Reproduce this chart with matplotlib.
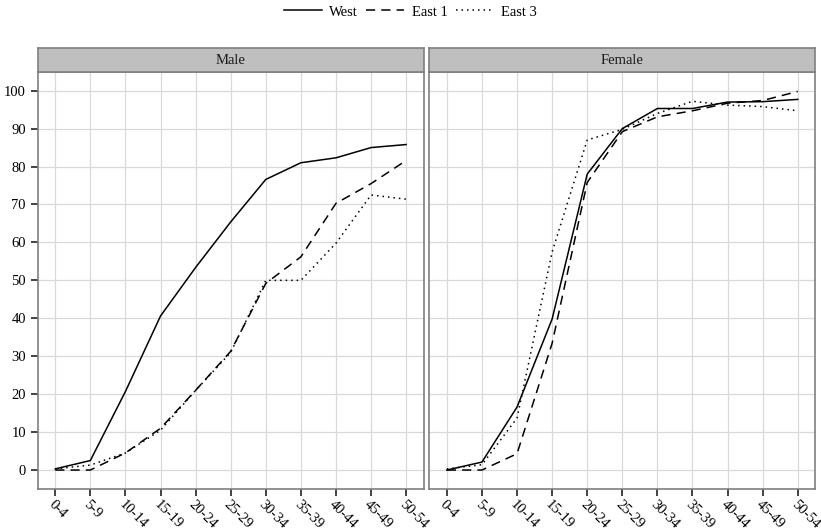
import numpy as np
import matplotlib
matplotlib.use('Agg')
import matplotlib.pyplot as plt
from matplotlib.lines import Line2D

plt.rcParams['font.family'] = ['Liberation Serif', 'DejaVu Serif']

# age groups on the x axis
ages = ['0-4', '5-9', '10-14', '15-19', '20-24', '25-29', '30-34',
        '35-39', '40-44', '45-49', '50-54']

# Male panel
male_west = [0.3, 2.5, 20.7, 40.6, 53.4, 65.4, 76.6, 81.0, 82.3, 85.0, 85.8]
male_east1 = [0.0, 0.0, 4.5, 11.0, 21.0, 31.3, 49.2, 56.2, 70.3, 75.5, 81.6]
male_east3 = [0.3, 1.3, 4.5, 10.5, 21.0, 31.0, 50.0, 50.0, 59.8, 72.5, 71.4]

# Female panel
female_west = [0.0, 2.1, 16.6, 39.8, 78.0, 90.0, 95.3, 95.3, 97.0, 97.1, 97.7]
female_east1 = [0.0, 0.0, 4.3, 33.4, 75.8, 89.2, 93.1, 94.7, 96.7, 97.4, 99.8]
female_east3 = [0.3, 1.4, 13.7, 57.5, 87.0, 89.8, 94.0, 97.2, 96.2, 95.8, 94.7]

panels = [('Male', male_west, male_east1, male_east3),
          ('Female', female_west, female_east1, female_east3)]

styles = {'West': dict(linestyle='-'),
          'East 1': dict(dashes=(6, 4)),
          'East 3': dict(dashes=(1, 2.6))}

fig = plt.figure(figsize=(8.21, 5.31), dpi=100)
W, H = 821.0, 531.0
lefts = [37.7, 429.3]
width = 386.0
bottom, top = 489.0, 71.7
strip_top = 48.3
fs = 10.5

x = np.arange(len(ages))
for (name, west, east1, east3), left in zip(panels, lefts):
    ax = fig.add_axes([left / W, 1 - bottom / H, width / W, (bottom - top) / H])
    for label, vals in [('West', west), ('East 1', east1), ('East 3', east3)]:
        ax.plot(x, vals, color='black', lw=1.1, **styles[label])
    ax.set_xlim(-0.5, 10.5)
    ax.set_ylim(-5, 105)
    ax.set_yticks(range(0, 101, 10))
    ax.set_xticks(x)
    ax.set_xticklabels(ages, rotation=-45, ha='left', va='top',
                       rotation_mode='anchor', fontsize=10)
    ax.grid(True, color='#d9d9d9', lw=0.9)
    ax.set_axisbelow(True)
    for sp in ax.spines.values():
        sp.set_color('#7f7f7f')
        sp.set_linewidth(1.2)
    ax.tick_params(axis='both', length=5, width=1.2, color='#222222',
                   labelsize=fs, labelcolor='black')
    ax.tick_params(axis='x', pad=1.5)
    if left != lefts[0]:
        ax.tick_params(axis='y', left=False, labelleft=False)

    # facet strip
    sax = fig.add_axes([left / W, 1 - top / H, width / W, (top - strip_top) / H])
    sax.set_facecolor('#bfbfbf')
    sax.set_xticks([])
    sax.set_yticks([])
    for sp in sax.spines.values():
        sp.set_color('#7f7f7f')
        sp.set_linewidth(1.2)
    sax.text(0.5, 0.5, name, ha='center', va='center', fontsize=fs,
             color='#1a1a1a', transform=sax.transAxes)

handles = [Line2D([], [], color='black', lw=1.1, **styles[k])
           for k in ['West', 'East 1', 'East 3']]
fig.legend(handles, ['West', 'East 1', 'East 3'], loc='center',
           bbox_to_anchor=(0.5, 1 - 12 / H), ncol=3, frameon=False,
           fontsize=fs, handlelength=2.6, handletextpad=0.5,
           columnspacing=0.6)

fig.savefig('out.png', dpi=100)
